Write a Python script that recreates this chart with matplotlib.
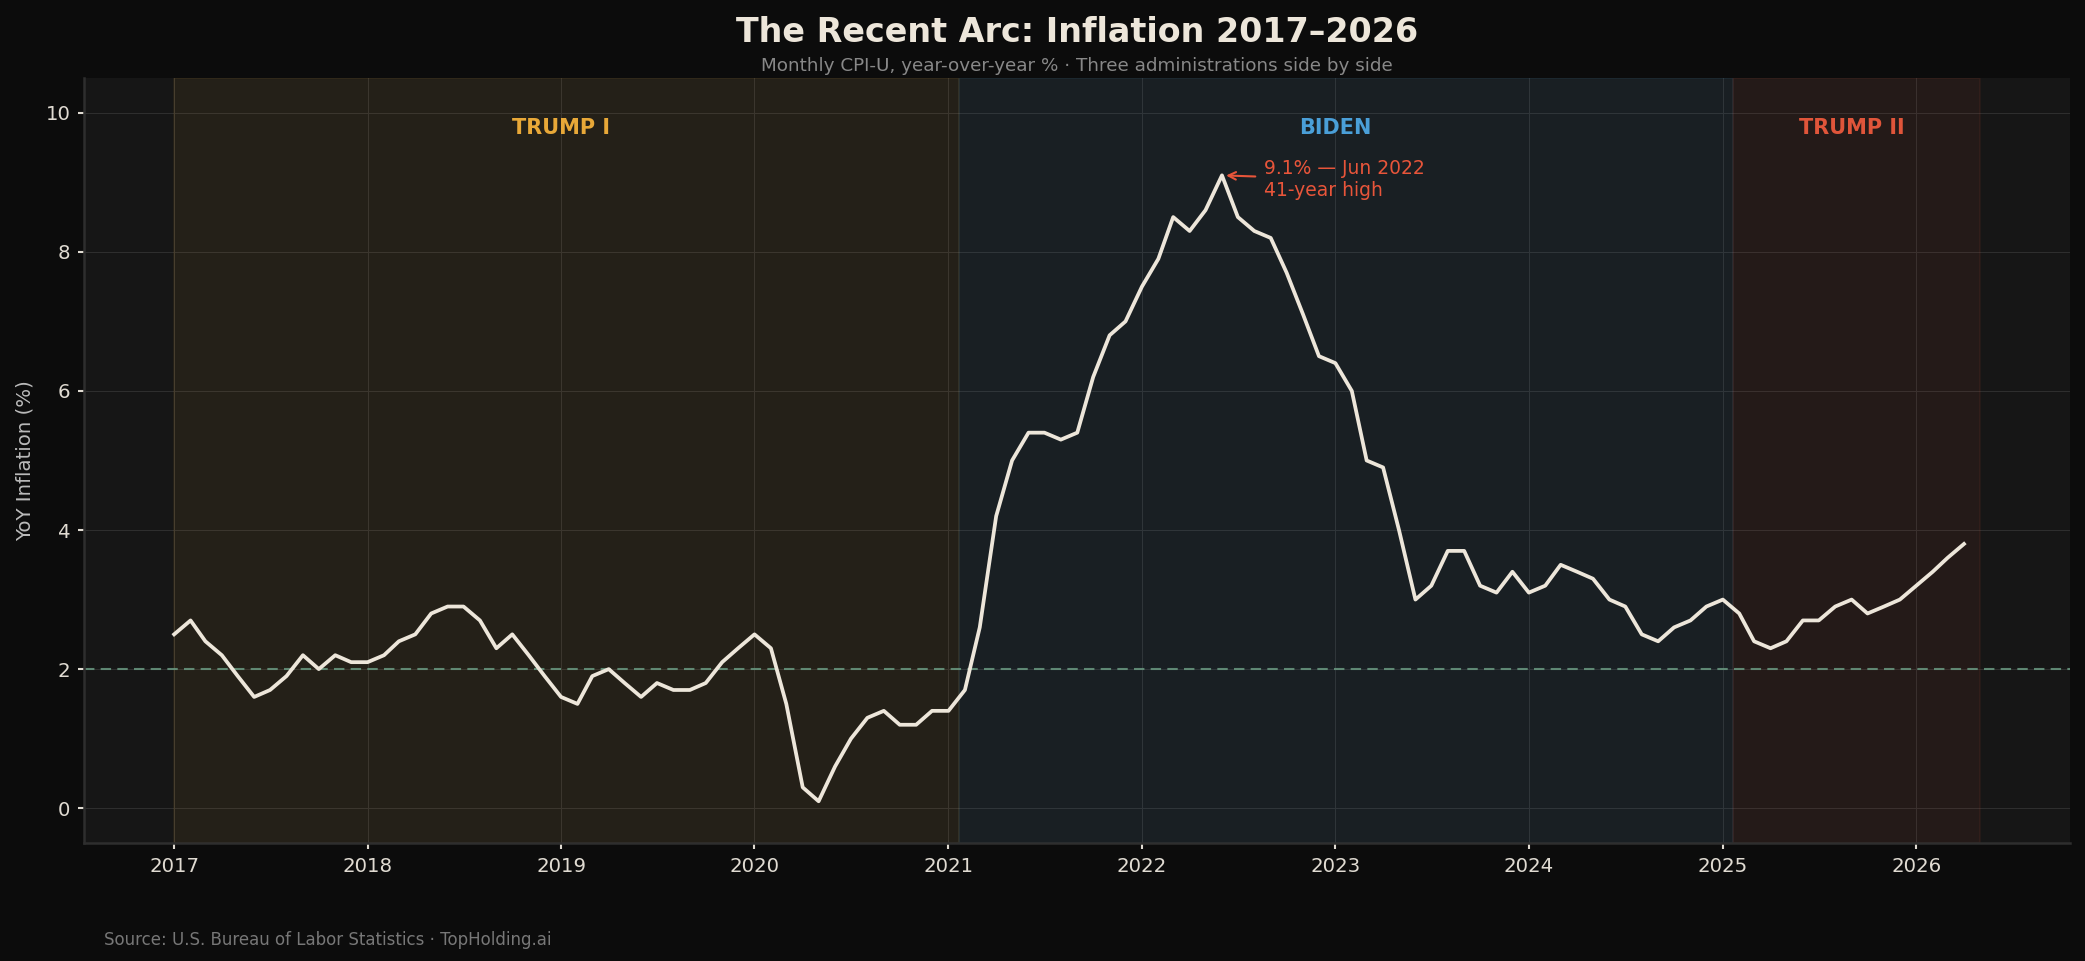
import pandas as pd
import matplotlib
matplotlib.use("Agg")
import matplotlib.pyplot as plt
import matplotlib.dates as mdates

# monthly CPI-U, year-over-year %
months = pd.date_range("2017-01-01", "2026-04-01", freq="MS")
cpi_yoy = [
    2.5, 2.7, 2.4, 2.2, 1.9, 1.6, 1.7, 1.9, 2.2, 2.0, 2.2, 2.1,   # 2017
    2.1, 2.2, 2.4, 2.5, 2.8, 2.9, 2.9, 2.7, 2.3, 2.5, 2.2, 1.9,   # 2018
    1.6, 1.5, 1.9, 2.0, 1.8, 1.6, 1.8, 1.7, 1.7, 1.8, 2.1, 2.3,   # 2019
    2.5, 2.3, 1.5, 0.3, 0.1, 0.6, 1.0, 1.3, 1.4, 1.2, 1.2, 1.4,   # 2020
    1.4, 1.7, 2.6, 4.2, 5.0, 5.4, 5.4, 5.3, 5.4, 6.2, 6.8, 7.0,   # 2021
    7.5, 7.9, 8.5, 8.3, 8.6, 9.1, 8.5, 8.3, 8.2, 7.7, 7.1, 6.5,   # 2022
    6.4, 6.0, 5.0, 4.9, 4.0, 3.0, 3.2, 3.7, 3.7, 3.2, 3.1, 3.4,   # 2023
    3.1, 3.2, 3.5, 3.4, 3.3, 3.0, 2.9, 2.5, 2.4, 2.6, 2.7, 2.9,   # 2024
    3.0, 2.8, 2.4, 2.3, 2.4, 2.7, 2.7, 2.9, 3.0, 2.8, 2.9, 3.0,   # 2025
    3.2, 3.4, 3.6, 3.8,                                           # 2026
]

# administrations
eras = ["TRUMP I", "BIDEN", "TRUMP II"]
era_start = ["2017-01-01", "2021-01-20", "2025-01-20"]
era_end = ["2021-01-20", "2025-01-20", "2026-05-01"]
# labels sit in the middle of the calendar years each term covers
label_from = ["2017-01-01", "2021-01-01", "2025-01-01"]
label_to = ["2021-01-01", "2025-01-01", "2026-05-01"]
era_colors = ["#E8A838", "#4A9FD8", "#E0553A"]

peak_date = pd.Timestamp("2022-06-01")
peak_value = 9.1
fed_target = 2.0

BG = "#0C0C0C"
AX_BG = "#161616"
CREAM = "#EDE6DA"

fig = plt.figure(figsize=(13.9, 6.407), dpi=150, facecolor=BG)
ax = fig.add_axes([0.0403, 0.1228, 0.9525, 0.796])
ax.set_facecolor(AX_BG)

# shaded eras + labels
for i, name in enumerate(eras):
    c = era_colors[i]
    ax.axvspan(pd.Timestamp(era_start[i]), pd.Timestamp(era_end[i]),
               color=c, alpha=0.07, lw=1)
    lf, lt = pd.Timestamp(label_from[i]), pd.Timestamp(label_to[i])
    ax.text(lf + (lt - lf) / 2, 9.78, name, color=c, fontsize=10,
            fontweight="bold", ha="center", va="center")

# fed 2% target
ax.axhline(fed_target, color="#6A9A82", lw=1, ls=(0, (5, 3)), alpha=0.85)

ax.plot(months, cpi_yoy, color=CREAM, lw=1.8, zorder=3)

ax.annotate("9.1% — Jun 2022\n41-year high", xy=(peak_date, peak_value),
            xytext=(20, -2), textcoords="offset points",
            ha="left", va="center", color="#E8553A", fontsize=9,
            arrowprops=dict(arrowstyle="->", color="#E8553A", lw=1))

ax.set_xlim(pd.Timestamp("2016-07-15"), pd.Timestamp("2026-10-18"))
ax.set_ylim(-0.5, 10.5)
ax.xaxis.set_major_locator(mdates.YearLocator())
ax.xaxis.set_major_formatter(mdates.DateFormatter("%Y"))
ax.set_yticks([0, 2, 4, 6, 8, 10])

ax.grid(True, color="#2E2E2E", lw=0.5)
ax.set_axisbelow(True)
for side in ["top", "right"]:
    ax.spines[side].set_visible(False)
for side in ["left", "bottom"]:
    ax.spines[side].set_color("#2E2E2E")
    ax.spines[side].set_linewidth(1.2)
ax.tick_params(colors="#E0DBD2", labelsize=9.5, length=3, width=1)

ax.set_ylabel("YoY Inflation (%)", color="#BBBBBB", fontsize=9.5)
ax.yaxis.set_label_coords(-0.025, 0.5)

# titles and source
fig.text(0.5166, 0.9667, "The Recent Arc: Inflation 2017–2026", color=CREAM,
         fontsize=16, fontweight="bold", ha="center", va="center")
fig.text(0.5166, 0.9313, "Monthly CPI-U, year-over-year % · Three administrations side by side",
         color="#888888", fontsize=8.8, ha="center", va="center")
fig.text(0.0499, 0.022, "Source: U.S. Bureau of Labor Statistics · TopHolding.ai",
         color="#777777", fontsize=8, ha="left", va="center")

fig.savefig("out.png", dpi=150, facecolor=BG)
